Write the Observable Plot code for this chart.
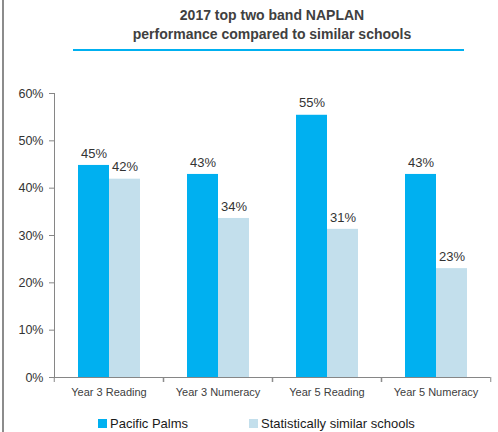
<!DOCTYPE html>
<html>
<head>
<meta charset="utf-8">
<script src="https://cdn.jsdelivr.net/npm/d3@7"></script>
<script src="https://cdn.jsdelivr.net/npm/@observablehq/plot@0.6"></script>
<style>
  html, body { margin: 0; padding: 0; background: #fff; }
  #wrap { position: relative; width: 498px; height: 432px; overflow: hidden; font-family: "Liberation Sans", Arial, sans-serif; color: #404040; }
  #border { position: absolute; left: 2px; top: 0; width: 1.5px; height: 432px; background: #8c8c8c; }
  #title { position: absolute; left: 40px; width: 464px; top: 6px; text-align: center; font-weight: bold; font-size: 14px; line-height: 19px; color: #404040; }
  #rule { position: absolute; left: 73px; width: 391px; top: 49px; height: 2px; background: #00b0f0; }
  #chart { position: absolute; left: 0; top: 56px; }
  #legend { position: absolute; top: 416px; left: 0; width: 498px; font-size: 13px; color: #1a1a1a; }
  .item { position: absolute; top: 0; display: flex; align-items: center; line-height: 15px; }
  .sw { width: 9px; height: 9px; margin-right: 3px; display: inline-block; }
</style>
</head>
<body>
<div id="wrap">
  <div id="border"></div>
  <div id="title">2017 top two band NAPLAN<br>performance compared to similar schools</div>
  <div id="rule"></div>
  <div id="chart"></div>
  <div id="legend"></div>
</div>
<script>
const categories = ["Year 3 Reading", "Year 3 Numeracy", "Year 5 Reading", "Year 5 Numeracy"];
const series = ["Pacific Palms", "Statistically similar schools"];
const pacificValues = [44.8, 42.9, 55.4, 42.9];
const similarValues = [41.9, 33.6, 31.3, 23.0];
const yTicks = [0, 10, 20, 30, 40, 50, 60];
const colors = ["#00b0f0", "#c3dfec"];

const data = [];
categories.forEach((c, i) => {
  data.push({category: c, series: series[0], value: pacificValues[i]});
  data.push({category: c, series: series[1], value: similarValues[i]});
});

const W = 498, H = 355, ML = 53, MR = 7, MT = 37, MB = 34;
const step = (W - ML - MR) / categories.length;
const axisGray = "#868686";

const chart = Plot.plot({
  width: W, height: H,
  marginLeft: ML, marginRight: MR, marginTop: MT, marginBottom: MB,
  style: {fontFamily: "'Liberation Sans', Arial, sans-serif", color: "#404040", background: "transparent"},
  fx: {domain: categories, padding: 0, label: null},
  x: {domain: series, paddingInner: 0, paddingOuter: 0.74, axis: null},
  y: {domain: [0, 60], label: null},
  color: {domain: series, range: colors},
  marks: [
    Plot.barY(data, {fx: "category", x: "series", y: "value", fill: "series"}),
    Plot.text(data, {fx: "category", x: "series", y: "value", text: d => Math.round(d.value) + "%", dy: -12, fontSize: 13, fill: "#333"}),
    Plot.ruleY([0], {stroke: axisGray}),
    Plot.frame({anchor: "left", stroke: axisGray, facetAnchor: "left"}),
    Plot.axisY({ticks: yTicks, tickFormat: d => d + "%", tickSize: 5, tickPadding: 6, fontSize: 12.5, stroke: axisGray, fill: "#333", label: null}),
    Plot.axisFx({anchor: "bottom", tickSize: 0, tickPadding: 11, fontSize: 11, fill: "#404040", label: null, style: "letter-spacing:0.8px"}),
    Plot.axisFx({anchor: "bottom", text: null, tickSize: 5, dx: -step / 2, stroke: axisGray, label: null}),
    Plot.axisFx({anchor: "bottom", text: null, tickSize: 5, dx: step / 2, stroke: axisGray, label: null})
  ]
});
document.getElementById("chart").appendChild(chart);

const legend = document.getElementById("legend");
const legendLeft = [98, 249];
series.forEach((s, i) => {
  const it = document.createElement("div");
  it.className = "item";
  it.style.left = legendLeft[i] + "px";
  const sw = document.createElement("span");
  sw.className = "sw";
  sw.style.background = colors[i];
  it.appendChild(sw);
  it.appendChild(document.createTextNode(s));
  legend.appendChild(it);
});
</script>
</body>
</html>
